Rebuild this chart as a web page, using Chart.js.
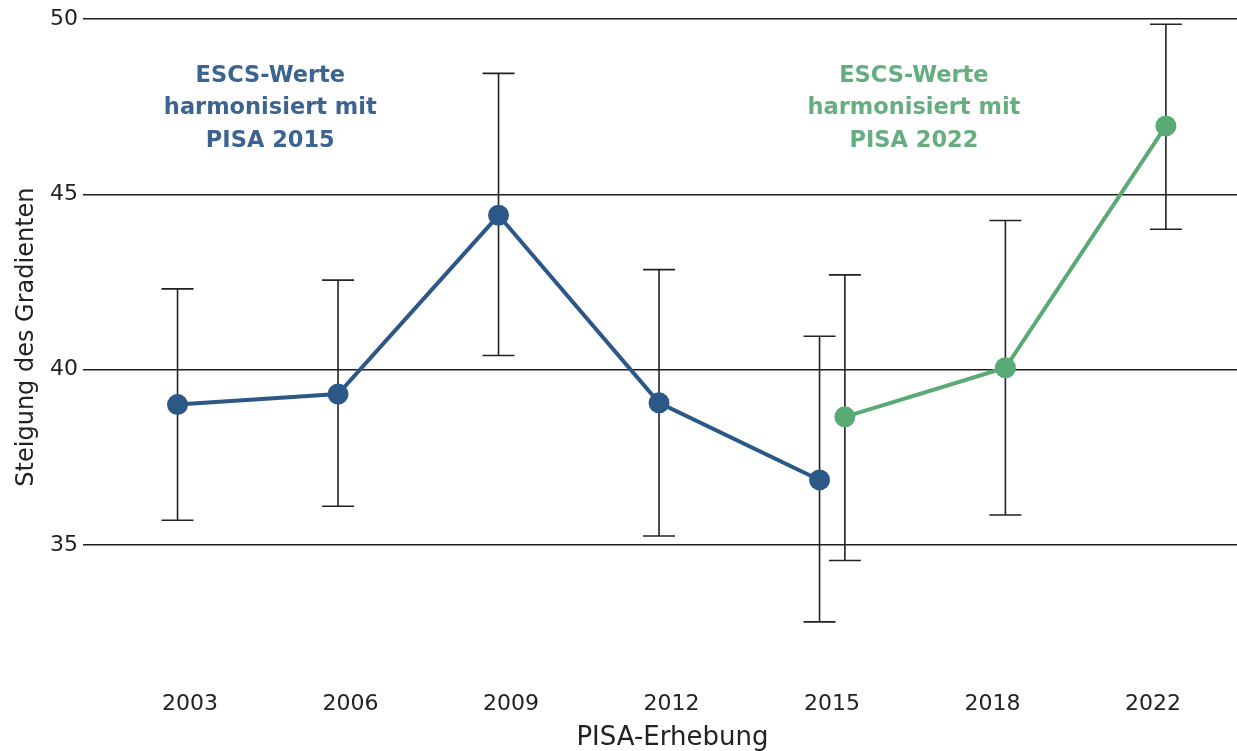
<!DOCTYPE html>
<html>
<head>
<meta charset="utf-8">
<script src="https://cdn.jsdelivr.net/npm/chart.js@4"></script>
<style>
  html, body { margin: 0; padding: 0; background: #fff; overflow: hidden; }
  #wrap { width: 1237px; height: 751px; }
  canvas { display: block; }
</style>
</head>
<body>
<div id="wrap"><canvas id="chart" width="1237" height="751"></canvas></div>
<script>
// survey years on the x axis
var years = ['2003', '2006', '2009', '2012', '2015', '2018', '2022'];

// ESCS harmonised with PISA 2015
var blueYears = ['2003', '2006', '2009', '2012', '2015'];
var blueValues = [39.0, 39.3, 44.4, 39.05, 36.85];
var blueLow = [35.7, 36.1, 40.4, 35.25, 32.8];
var blueHigh = [42.3, 42.55, 48.45, 42.85, 40.95];

// ESCS harmonised with PISA 2022
var greenYears = ['2015', '2018', '2022'];
var greenValues = [38.65, 40.05, 46.95];
var greenLow = [34.55, 35.85, 44.0];
var greenHigh = [42.7, 44.25, 49.85];

// y tick labels
var yTicks = [35, 40, 45, 50];

var blueColor = '#2c5888';
var greenColor = '#5aaa76';
var fontFamily = '"DejaVu Sans", Verdana, sans-serif';

// builds points from the year lists, shifted a bit left or right inside the category
function makePoints(yrs, vals, shift) {
    var pts = [];
    for (var i = 0; i < yrs.length; i++) {
        pts.push({ x: years.indexOf(yrs[i]) + shift, y: vals[i] });
    }
    return pts;
}

// error bars, drawn under the lines
var errorBars = {
    id: 'errorBars',
    beforeDatasetsDraw: function (chart) {
        var ctx = chart.ctx;
        var xs = chart.scales.x;
        var ys = chart.scales.y;
        var sets = [[blueYears, blueLow, blueHigh, -0.078], [greenYears, greenLow, greenHigh, 0.08]];
        ctx.save();
        ctx.strokeStyle = '#222';
        ctx.lineWidth = 1.6;
        sets.forEach(function (s) {
            for (var i = 0; i < s[0].length; i++) {
                var x = xs.getPixelForValue(years.indexOf(s[0][i]) + s[3]);
                var yl = ys.getPixelForValue(s[1][i]);
                var yh = ys.getPixelForValue(s[2][i]);
                ctx.beginPath();
                ctx.moveTo(x, yl); ctx.lineTo(x, yh);
                ctx.moveTo(x - 16, yl); ctx.lineTo(x + 16, yl);
                ctx.moveTo(x - 16, yh); ctx.lineTo(x + 16, yh);
                ctx.stroke();
            }
        });
        ctx.restore();
    }
};

// the two text labels inside the plot
var notes = {
    id: 'notes',
    afterDraw: function (chart) {
        var ctx = chart.ctx;
        var xs = chart.scales.x;
        var ys = chart.scales.y;
        var items = [
            { x: 0.5, color: '#3d6391', lines: ['ESCS-Werte', 'harmonisiert mit', 'PISA 2015'] },
            { x: 4.51, color: '#66ad80', lines: ['ESCS-Werte', 'harmonisiert mit', 'PISA 2022'] }
        ];
        ctx.save();
        ctx.font = 'bold 22.5px ' + fontFamily;
        ctx.textAlign = 'center';
        ctx.textBaseline = 'middle';
        items.forEach(function (it) {
            var px = xs.getPixelForValue(it.x);
            var py = ys.getPixelForValue(48.37);
            ctx.fillStyle = it.color;
            it.lines.forEach(function (l, k) {
                ctx.fillText(l, px, py + k * 32.5);
            });
        });
        ctx.restore();
    }
};

var ctx = document.getElementById('chart').getContext('2d');
var chart = new Chart(ctx, {
    type: 'line',
    data: {
        datasets: [{
            data: makePoints(blueYears, blueValues, -0.078),
            borderColor: blueColor,
            backgroundColor: blueColor,
            borderWidth: 4,
            pointRadius: 10.5,
            pointBorderWidth: 0,
            tension: 0
        }, {
            data: makePoints(greenYears, greenValues, 0.08),
            borderColor: greenColor,
            backgroundColor: greenColor,
            borderWidth: 4,
            pointRadius: 10.5,
            pointBorderWidth: 0,
            tension: 0
        }]
    },
    options: {
        responsive: false,
        animation: false,
        layout: { autoPadding: false, padding: { top: 19, right: 0, left: 0, bottom: 0 } },
        plugins: { legend: { display: false }, tooltip: { enabled: false } },
        scales: {
            x: {
                type: 'linear',
                min: -0.667,
                max: 6.523,
                grid: { display: false, drawTicks: false },
                border: { display: false },
                afterBuildTicks: function (axis) {
                    axis.ticks = years.map(function (y, i) { return { value: i }; });
                },
                afterFit: function (axis) {
                    axis.height = 73;
                    axis.paddingLeft = 0;
                    axis.paddingRight = 0;
                },
                ticks: {
                    autoSkip: false,
                    maxRotation: 0,
                    padding: 13,
                    color: '#222',
                    font: { family: fontFamily, size: 22 },
                    callback: function (v) { return years[v]; }
                },
                title: {
                    display: true,
                    text: '   PISA-Erhebung',
                    color: '#222',
                    font: { family: fontFamily, size: 26, lineHeight: 1.0 },
                    padding: { top: 0, bottom: 0 }
                }
            },
            y: {
                min: 31.2,
                max: 50,
                grid: { color: '#1e1e1e', lineWidth: 1.5, drawTicks: false },
                border: { display: false },
                afterBuildTicks: function (axis) {
                    axis.ticks = yTicks.map(function (v) { return { value: v }; });
                },
                afterFit: function (axis) { axis.width = 83; },
                ticks: {
                    padding: 5,
                    color: '#222',
                    font: { family: fontFamily, size: 22 }
                },
                title: {
                    display: true,
                    text: '   Steigung des Gradienten',
                    color: '#222',
                    font: { family: fontFamily, size: 24 },
                    padding: { top: 12.6, bottom: 0 }
                }
            }
        }
    },
    plugins: [errorBars, notes]
});
</script>
</body>
</html>
